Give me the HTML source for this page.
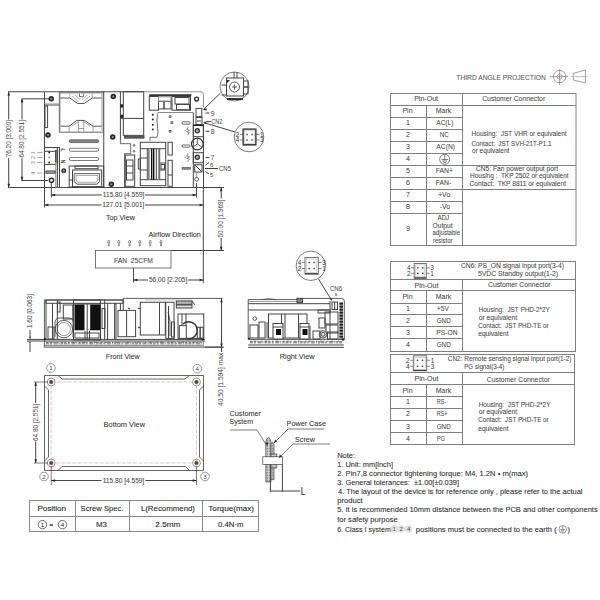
<!DOCTYPE html>
<html><head><meta charset="utf-8"><style>
html,body{margin:0;padding:0;background:#fff;width:600px;height:600px;overflow:hidden}
svg{display:block;font-family:"Liberation Sans",sans-serif}
</style></head><body>
<svg width="600" height="600" viewBox="0 0 600 600">
<rect width="600" height="600" fill="#fff"/>
<text x="456.3" y="80.0" font-size="7.5" textLength="89.5" lengthAdjust="spacingAndGlyphs" fill="#555" stroke="#555" stroke-width="0.06">THIRD ANGLE PROJECTION</text>
<g stroke="#777" stroke-width="0.7" fill="none">
<circle cx="559.6" cy="76.6" r="6.2"/>
<circle cx="559.6" cy="76.6" r="2.5" stroke="#a77"/>
<line x1="550" y1="76.6" x2="568" y2="76.6"/><line x1="559.6" y1="69" x2="559.6" y2="85"/>
<path d="M573.3 73.3 L585.4 70 L585.4 82.8 L573.3 80 Z"/>
<line x1="570.8" y1="76.6" x2="588.3" y2="76.6" stroke="#b99"/>
</g>
<g stroke="#777" stroke-width="1" fill="none">
<rect x="390.5" y="93.5" width="185.5" height="152" stroke="#808080" stroke-width="1" fill="none" />
<line x1="390.5" y1="105.5" x2="576" y2="105.5" stroke="#808080" stroke-width="1" />
<line x1="462.5" y1="93.5" x2="462.5" y2="245.5" stroke="#808080" stroke-width="1" />
<line x1="426.5" y1="105.5" x2="426.5" y2="245.5" stroke="#808080" stroke-width="1" />
<line x1="390.5" y1="117.5" x2="462.5" y2="117.5" stroke="#808080" stroke-width="1" />
<line x1="390.5" y1="129.5" x2="462.5" y2="129.5" stroke="#808080" stroke-width="1" />
<line x1="390.5" y1="141.5" x2="462.5" y2="141.5" stroke="#808080" stroke-width="1" />
<line x1="390.5" y1="153.5" x2="462.5" y2="153.5" stroke="#808080" stroke-width="1" />
<line x1="390.5" y1="165.5" x2="462.5" y2="165.5" stroke="#808080" stroke-width="1" />
<line x1="390.5" y1="177.5" x2="462.5" y2="177.5" stroke="#808080" stroke-width="1" />
<line x1="390.5" y1="189.5" x2="462.5" y2="189.5" stroke="#808080" stroke-width="1" />
<line x1="390.5" y1="201.5" x2="462.5" y2="201.5" stroke="#808080" stroke-width="1" />
<line x1="390.5" y1="213.5" x2="462.5" y2="213.5" stroke="#808080" stroke-width="1" />
<line x1="462.5" y1="165.5" x2="576" y2="165.5" stroke="#808080" stroke-width="1" />
<line x1="462.5" y1="189.5" x2="576" y2="189.5" stroke="#808080" stroke-width="1" />
</g>
<text x="414.2" y="100.8" font-size="7" textLength="23.8" lengthAdjust="spacingAndGlyphs" fill="#444" stroke="#555" stroke-width="0.06">Pin-Out</text>
<text x="482.2" y="101.3" font-size="7" textLength="63.0" lengthAdjust="spacingAndGlyphs" fill="#444" stroke="#555" stroke-width="0.06">Customer Connector</text>
<text x="402.5" y="113.3" font-size="7" textLength="10.0" lengthAdjust="spacingAndGlyphs" fill="#444" stroke="#555" stroke-width="0.06">Pin</text>
<text x="435.8" y="113.3" font-size="7" textLength="15.5" lengthAdjust="spacingAndGlyphs" fill="#444" stroke="#555" stroke-width="0.06">Mark</text>
<text x="408" y="125.0" font-size="7" text-anchor="middle" fill="#333">1</text>
<text x="436.3" y="125.0" font-size="7" textLength="17.0" lengthAdjust="spacingAndGlyphs" fill="#444" stroke="#555" stroke-width="0.06">AC(L)</text>
<text x="408" y="137.3" font-size="7" text-anchor="middle" fill="#333">2</text>
<text x="439.7" y="137.3" font-size="7" textLength="9.0" lengthAdjust="spacingAndGlyphs" fill="#444" stroke="#555" stroke-width="0.06">NC</text>
<text x="408" y="149.4" font-size="7" text-anchor="middle" fill="#333">3</text>
<text x="436.3" y="149.4" font-size="7" textLength="18.7" lengthAdjust="spacingAndGlyphs" fill="#444" stroke="#555" stroke-width="0.06">AC(N)</text>
<text x="408" y="161.4" font-size="7" text-anchor="middle" fill="#333">4</text>
<text x="408" y="173.4" font-size="7" text-anchor="middle" fill="#333">5</text>
<text x="435.8" y="173.4" font-size="7" textLength="17.2" lengthAdjust="spacingAndGlyphs" fill="#444" stroke="#555" stroke-width="0.06">FAN+</text>
<text x="408" y="185.2" font-size="7" text-anchor="middle" fill="#333">6</text>
<text x="435.8" y="185.2" font-size="7" textLength="15.5" lengthAdjust="spacingAndGlyphs" fill="#444" stroke="#555" stroke-width="0.06">FAN-</text>
<text x="408" y="197.3" font-size="7" text-anchor="middle" fill="#333">7</text>
<text x="438.0" y="197.3" font-size="7" textLength="12.3" lengthAdjust="spacingAndGlyphs" fill="#444" stroke="#555" stroke-width="0.06">+Vo</text>
<text x="408" y="208.9" font-size="7" text-anchor="middle" fill="#333">8</text>
<text x="439.7" y="208.9" font-size="7" textLength="10.6" lengthAdjust="spacingAndGlyphs" fill="#444" stroke="#555" stroke-width="0.06">-Vo</text>
<text x="408" y="230.8" font-size="7" text-anchor="middle" fill="#333">9</text>
<g stroke="#444" stroke-width="0.7" fill="none"><circle cx="444.7" cy="159.3" r="5"/><line x1="444.7" y1="155" x2="444.7" y2="159.5"/><line x1="441.5" y1="159.5" x2="448" y2="159.5"/><line x1="442.5" y1="161" x2="447" y2="161"/><line x1="443.5" y1="162.5" x2="446" y2="162.5"/></g>
<text x="437.5" y="220.0" font-size="6.9" textLength="11.7" lengthAdjust="spacingAndGlyphs" fill="#444" stroke="#555" stroke-width="0.06">ADJ</text>
<text x="432.5" y="227.5" font-size="6.9" textLength="20.0" lengthAdjust="spacingAndGlyphs" fill="#444" stroke="#555" stroke-width="0.06">Output</text>
<text x="432.5" y="235.0" font-size="6.9" textLength="27.5" lengthAdjust="spacingAndGlyphs" fill="#444" stroke="#555" stroke-width="0.06">adjustable</text>
<text x="433.0" y="242.8" font-size="6.9" textLength="19.5" lengthAdjust="spacingAndGlyphs" fill="#444" stroke="#555" stroke-width="0.06">resistor</text>
<text x="471.6" y="135.6" font-size="6.9" textLength="95.0" lengthAdjust="spacingAndGlyphs" fill="#444" stroke="#555" stroke-width="0.06">Housing:&#160; JST VHR or equivalent</text>
<text x="471.6" y="145.6" font-size="6.9" textLength="79.8" lengthAdjust="spacingAndGlyphs" fill="#444" stroke="#555" stroke-width="0.06">Contact:&#160; JST SVH-21T-P1.1</text>
<text x="472.0" y="153.2" font-size="6.9" textLength="37.4" lengthAdjust="spacingAndGlyphs" fill="#444" stroke="#555" stroke-width="0.06">or equivalent</text>
<text x="476.0" y="170.6" font-size="6.9" textLength="82.0" lengthAdjust="spacingAndGlyphs" fill="#444" stroke="#555" stroke-width="0.06">CN5: Fan power output port</text>
<text x="470.0" y="178.2" font-size="6.9" textLength="98.6" lengthAdjust="spacingAndGlyphs" fill="#444" stroke="#555" stroke-width="0.06">Housing :&#160; TKP 2502 or equivalent</text>
<text x="469.6" y="186.2" font-size="6.9" textLength="96.4" lengthAdjust="spacingAndGlyphs" fill="#444" stroke="#555" stroke-width="0.06">Contact:&#160; TKP 8811 or equivalent</text>
<g stroke="#777" stroke-width="1" fill="none">
<rect x="390.5" y="261.5" width="185" height="90" stroke="#808080" stroke-width="1" fill="none" />
<line x1="390.5" y1="279.5" x2="575.5" y2="279.5" stroke="#808080" stroke-width="1" />
<line x1="390.5" y1="290.5" x2="575.5" y2="290.5" stroke="#808080" stroke-width="1" />
<line x1="462.5" y1="279.5" x2="462.5" y2="351.5" stroke="#808080" stroke-width="1" />
<line x1="426.5" y1="290.5" x2="426.5" y2="351.5" stroke="#808080" stroke-width="1" />
<line x1="390.5" y1="303.5" x2="462.5" y2="303.5" stroke="#808080" stroke-width="1" />
<line x1="390.5" y1="314.5" x2="462.5" y2="314.5" stroke="#808080" stroke-width="1" />
<line x1="390.5" y1="326.5" x2="462.5" y2="326.5" stroke="#808080" stroke-width="1" />
<line x1="390.5" y1="338.5" x2="462.5" y2="338.5" stroke="#808080" stroke-width="1" />
</g>
<rect x="414.2" y="263.5" width="12.100000000000023" height="14.800000000000011" stroke="#666" stroke-width="0.9" fill="none" />
<rect x="415.7" y="265.0" width="9.100000000000023" height="11.800000000000011" stroke="#aaa" stroke-width="0.5" fill="none" />
<line x1="414.2" y1="277.8" x2="426.3" y2="277.8" stroke="#333" stroke-width="1" />
<rect x="417.05" y="267.1" width="1.4" height="1.4" fill="#333"/>
<rect x="422.05" y="267.1" width="1.4" height="1.4" fill="#333"/>
<line x1="411.2" y1="267.8" x2="414.2" y2="267.8" stroke="#555" stroke-width="0.7" />
<line x1="426.3" y1="267.8" x2="429.8" y2="267.8" stroke="#555" stroke-width="0.7" />
<rect x="417.05" y="272.6" width="1.4" height="1.4" fill="#333"/>
<rect x="422.05" y="272.6" width="1.4" height="1.4" fill="#333"/>
<line x1="411.2" y1="273.3" x2="414.2" y2="273.3" stroke="#555" stroke-width="0.7" />
<line x1="426.3" y1="273.3" x2="429.8" y2="273.3" stroke="#555" stroke-width="0.7" />
<text x="407.0" y="270.1" font-size="6.4" fill="#333">4</text>
<text x="407.0" y="275.6" font-size="6.4" fill="#333">2</text>
<text x="430.3" y="270.1" font-size="6.4" fill="#333">3</text>
<text x="430.3" y="275.6" font-size="6.4" fill="#333">1</text>
<text x="461.0" y="267.8" font-size="6.9" textLength="103.0" lengthAdjust="spacingAndGlyphs" fill="#444" stroke="#555" stroke-width="0.06">CN6: PS_ON signal input port(3-4)</text>
<text x="478.0" y="276.0" font-size="6.9" textLength="80.0" lengthAdjust="spacingAndGlyphs" fill="#444" stroke="#555" stroke-width="0.06">5VDC Standby output(1-2)</text>
<text x="414.5" y="287.8" font-size="7" textLength="24.0" lengthAdjust="spacingAndGlyphs" fill="#444" stroke="#555" stroke-width="0.06">Pin-Out</text>
<text x="488.0" y="287.4" font-size="7" textLength="62.5" lengthAdjust="spacingAndGlyphs" fill="#444" stroke="#555" stroke-width="0.06">Customer Connector</text>
<text x="402.5" y="298.9" font-size="7" textLength="10.0" lengthAdjust="spacingAndGlyphs" fill="#444" stroke="#555" stroke-width="0.06">Pin</text>
<text x="435.8" y="298.9" font-size="7" textLength="15.5" lengthAdjust="spacingAndGlyphs" fill="#444" stroke="#555" stroke-width="0.06">Mark</text>
<text x="408" y="310.5" font-size="7" text-anchor="middle" fill="#333">1</text>
<text x="437.0" y="310.5" font-size="7" textLength="11.7" lengthAdjust="spacingAndGlyphs" fill="#444" stroke="#555" stroke-width="0.06">+5V</text>
<text x="408" y="322.6" font-size="7" text-anchor="middle" fill="#333">2</text>
<text x="436.7" y="322.6" font-size="7" textLength="14.1" lengthAdjust="spacingAndGlyphs" fill="#444" stroke="#555" stroke-width="0.06">GND</text>
<text x="408" y="334.7" font-size="7" text-anchor="middle" fill="#333">3</text>
<text x="436.3" y="334.7" font-size="7" textLength="21.2" lengthAdjust="spacingAndGlyphs" fill="#444" stroke="#555" stroke-width="0.06">PS-ON</text>
<text x="408" y="346.8" font-size="7" text-anchor="middle" fill="#333">4</text>
<text x="436.7" y="346.8" font-size="7" textLength="14.1" lengthAdjust="spacingAndGlyphs" fill="#444" stroke="#555" stroke-width="0.06">GND</text>
<text x="478.7" y="311.7" font-size="6.9" textLength="71.1" lengthAdjust="spacingAndGlyphs" fill="#444" stroke="#555" stroke-width="0.06">Housing:&#160; JST PHD-2*2Y</text>
<text x="478.7" y="319.6" font-size="6.9" textLength="38.5" lengthAdjust="spacingAndGlyphs" fill="#444" stroke="#555" stroke-width="0.06">or equivalent</text>
<text x="478.2" y="327.8" font-size="6.9" textLength="70.5" lengthAdjust="spacingAndGlyphs" fill="#444" stroke="#555" stroke-width="0.06">Contact:&#160; JST PHD-TE or</text>
<text x="478.2" y="336.0" font-size="6.9" textLength="30.3" lengthAdjust="spacingAndGlyphs" fill="#444" stroke="#555" stroke-width="0.06">equivalent</text>
<g stroke="#777" stroke-width="1" fill="none">
<rect x="390.5" y="354.5" width="184" height="90" stroke="#808080" stroke-width="1" fill="none" />
<line x1="390.5" y1="372.5" x2="574.5" y2="372.5" stroke="#808080" stroke-width="1" />
<line x1="390.5" y1="384.5" x2="574.5" y2="384.5" stroke="#808080" stroke-width="1" />
<line x1="462.5" y1="372.5" x2="462.5" y2="444.5" stroke="#808080" stroke-width="1" />
<line x1="426.5" y1="384.5" x2="426.5" y2="444.5" stroke="#808080" stroke-width="1" />
<line x1="390.5" y1="396.5" x2="462.5" y2="396.5" stroke="#808080" stroke-width="1" />
<line x1="390.5" y1="408.5" x2="462.5" y2="408.5" stroke="#808080" stroke-width="1" />
<line x1="390.5" y1="420.5" x2="462.5" y2="420.5" stroke="#808080" stroke-width="1" />
<line x1="390.5" y1="432.5" x2="462.5" y2="432.5" stroke="#808080" stroke-width="1" />
</g>
<rect x="413.3" y="355.8" width="13.399999999999977" height="15.0" stroke="#666" stroke-width="0.9" fill="none" />
<rect x="414.8" y="357.3" width="10.399999999999977" height="12.0" stroke="#aaa" stroke-width="0.5" fill="none" />
<line x1="413.3" y1="370.3" x2="426.7" y2="370.3" stroke="#333" stroke-width="1" />
<rect x="416.8" y="359.6" width="1.4" height="1.4" fill="#333"/>
<rect x="421.8" y="359.6" width="1.4" height="1.4" fill="#333"/>
<line x1="410.3" y1="360.3" x2="413.3" y2="360.3" stroke="#555" stroke-width="0.7" />
<line x1="426.7" y1="360.3" x2="430.2" y2="360.3" stroke="#555" stroke-width="0.7" />
<rect x="416.8" y="365.6" width="1.4" height="1.4" fill="#333"/>
<rect x="421.8" y="365.6" width="1.4" height="1.4" fill="#333"/>
<line x1="410.3" y1="366.3" x2="413.3" y2="366.3" stroke="#555" stroke-width="0.7" />
<line x1="426.7" y1="366.3" x2="430.2" y2="366.3" stroke="#555" stroke-width="0.7" />
<text x="406.1" y="362.6" font-size="6.4" fill="#333">2</text>
<text x="406.1" y="368.6" font-size="6.4" fill="#333">4</text>
<text x="430.7" y="362.6" font-size="6.4" fill="#333">1</text>
<text x="430.7" y="368.6" font-size="6.4" fill="#333">3</text>
<text x="447.8" y="361.2" font-size="6.9" textLength="123.7" lengthAdjust="spacingAndGlyphs" fill="#444" stroke="#555" stroke-width="0.06">CN2: Remote sensing signal input port(1-2)</text>
<text x="464.2" y="368.7" font-size="6.9" textLength="40.1" lengthAdjust="spacingAndGlyphs" fill="#444" stroke="#555" stroke-width="0.06">PG signal(3-4)</text>
<text x="414.5" y="381.4" font-size="7" textLength="24.0" lengthAdjust="spacingAndGlyphs" fill="#444" stroke="#555" stroke-width="0.06">Pin-Out</text>
<text x="486.8" y="381.5" font-size="7" textLength="63.0" lengthAdjust="spacingAndGlyphs" fill="#444" stroke="#555" stroke-width="0.06">Customer Connector</text>
<text x="402.5" y="392.6" font-size="7" textLength="10.0" lengthAdjust="spacingAndGlyphs" fill="#444" stroke="#555" stroke-width="0.06">Pin</text>
<text x="435.8" y="392.6" font-size="7" textLength="15.5" lengthAdjust="spacingAndGlyphs" fill="#444" stroke="#555" stroke-width="0.06">Mark</text>
<text x="408" y="404.3" font-size="7" text-anchor="middle" fill="#333">1</text>
<text x="436.7" y="404.3" font-size="7" textLength="9.6" lengthAdjust="spacingAndGlyphs" fill="#444" stroke="#555" stroke-width="0.06">RS-</text>
<text x="408" y="416" font-size="7" text-anchor="middle" fill="#333">2</text>
<text x="436.7" y="416.0" font-size="7" textLength="10.8" lengthAdjust="spacingAndGlyphs" fill="#444" stroke="#555" stroke-width="0.06">RS+</text>
<text x="408" y="429.3" font-size="7" text-anchor="middle" fill="#333">3</text>
<text x="436.7" y="429.3" font-size="7" textLength="14.1" lengthAdjust="spacingAndGlyphs" fill="#444" stroke="#555" stroke-width="0.06">GND</text>
<text x="408" y="440.9" font-size="7" text-anchor="middle" fill="#333">4</text>
<text x="436.7" y="440.9" font-size="7" textLength="8.3" lengthAdjust="spacingAndGlyphs" fill="#444" stroke="#555" stroke-width="0.06">PG</text>
<text x="478.7" y="406.7" font-size="6.9" textLength="71.8" lengthAdjust="spacingAndGlyphs" fill="#444" stroke="#555" stroke-width="0.06">Housing:&#160; JST PHD-2*2Y</text>
<text x="478.7" y="414.2" font-size="6.9" textLength="38.5" lengthAdjust="spacingAndGlyphs" fill="#444" stroke="#555" stroke-width="0.06">or equivalent</text>
<text x="478.2" y="422.3" font-size="6.9" textLength="70.5" lengthAdjust="spacingAndGlyphs" fill="#444" stroke="#555" stroke-width="0.06">Contact:&#160; JST PHD-TE or</text>
<text x="478.2" y="430.5" font-size="6.9" textLength="30.3" lengthAdjust="spacingAndGlyphs" fill="#444" stroke="#555" stroke-width="0.06">equivalent</text>
<g xml:space="preserve">
<text x="337.2" y="457.6" font-size="6.8" textLength="17.9" lengthAdjust="spacingAndGlyphs" fill="#2a2a2a" stroke="#444" stroke-width="0.08">Note:</text>
<text x="337.2" y="466.9" font-size="6.8" textLength="55.8" lengthAdjust="spacingAndGlyphs" fill="#2a2a2a" stroke="#444" stroke-width="0.08">1. Unit: mm[inch]</text>
<text x="337.2" y="476.0" font-size="6.8" textLength="190.8" lengthAdjust="spacingAndGlyphs" fill="#2a2a2a" stroke="#444" stroke-width="0.08">2. Pin7,8 connector tightening torque: M4, 1.2N • m(max)</text>
<text x="337.2" y="485.1" font-size="6.8" textLength="121.8" lengthAdjust="spacingAndGlyphs" fill="#2a2a2a" stroke="#444" stroke-width="0.08">3. General tolerances:&#160;  ±1.00[±0.039]</text>
<text x="338.0" y="493.9" font-size="6.8" textLength="244.5" lengthAdjust="spacingAndGlyphs" fill="#2a2a2a" stroke="#444" stroke-width="0.08">4. The layout of the device is for reference only , please refer to the actual</text>
<text x="337.2" y="503.0" font-size="6.8" textLength="25.5" lengthAdjust="spacingAndGlyphs" fill="#2a2a2a" stroke="#444" stroke-width="0.08">product</text>
<text x="337.2" y="512.4" font-size="6.8" textLength="260.5" lengthAdjust="spacingAndGlyphs" fill="#2a2a2a" stroke="#444" stroke-width="0.08">5. It is recommended 10mm distance between the PCB and other components</text>
<text x="337.2" y="521.6" font-size="6.8" textLength="60.5" lengthAdjust="spacingAndGlyphs" fill="#2a2a2a" stroke="#444" stroke-width="0.08">for safety purpose</text>
<text x="337.2" y="531.5" font-size="6.8" textLength="53.6" lengthAdjust="spacingAndGlyphs" fill="#2a2a2a" stroke="#444" stroke-width="0.08">6. Class I system</text>
<text x="415.8" y="531.5" font-size="6.8" textLength="136.2" lengthAdjust="spacingAndGlyphs" fill="#2a2a2a" stroke="#444" stroke-width="0.08">positions must be connected to the earth</text>
<text x="554.0" y="531.5" font-size="6.8" textLength="2.8" lengthAdjust="spacingAndGlyphs" fill="#2a2a2a" stroke="#444" stroke-width="0.08">(</text>
</g>
<circle cx="394.2" cy="529" r="3.4" fill="#e6e6e6" stroke="#ccc" stroke-width="0.5"/>
<text x="394.2" y="531.3" font-size="6" text-anchor="middle" fill="#444">1</text>
<circle cx="401.2" cy="529" r="3.4" fill="#e6e6e6" stroke="#ccc" stroke-width="0.5"/>
<text x="401.2" y="531.3" font-size="6" text-anchor="middle" fill="#444">2</text>
<circle cx="408.6" cy="529" r="3.4" fill="#e6e6e6" stroke="#ccc" stroke-width="0.5"/>
<text x="408.6" y="531.3" font-size="6" text-anchor="middle" fill="#444">4</text>
<g stroke="#555" stroke-width="0.6" fill="none"><circle cx="562.7" cy="529.3" r="3.8"/><line x1="562.7" y1="526" x2="562.7" y2="529.5"/><line x1="560.2" y1="529.5" x2="565.2" y2="529.5"/><line x1="561" y1="530.8" x2="564.4" y2="530.8"/><line x1="561.9" y1="532" x2="563.5" y2="532"/></g>
<text x="567.5" y="531.5" font-size="6.8" textLength="2.5" lengthAdjust="spacingAndGlyphs" fill="#2a2a2a" stroke="#444" stroke-width="0.08">)</text>
<g stroke="#888" stroke-width="1" fill="none">
<rect x="29.5" y="500.5" width="229" height="31" stroke="#8a8a8a" stroke-width="1" fill="none" />
<line x1="29.5" y1="516.5" x2="258.5" y2="516.5" stroke="#8a8a8a" stroke-width="1" />
<line x1="75.5" y1="500.5" x2="75.5" y2="531.5" stroke="#8a8a8a" stroke-width="1" />
<line x1="129.5" y1="500.5" x2="129.5" y2="531.5" stroke="#8a8a8a" stroke-width="1" />
<line x1="202.5" y1="500.5" x2="202.5" y2="531.5" stroke="#8a8a8a" stroke-width="1" />
</g>
<text x="37.4" y="511.3" font-size="7.7" textLength="28.6" lengthAdjust="spacingAndGlyphs" fill="#222" stroke="#333" stroke-width="0.1">Position</text>
<text x="80.6" y="511.3" font-size="7.7" textLength="42.8" lengthAdjust="spacingAndGlyphs" fill="#222" stroke="#333" stroke-width="0.1">Screw Spec.</text>
<text x="140.9" y="511.3" font-size="7.7" textLength="54.1" lengthAdjust="spacingAndGlyphs" fill="#222" stroke="#333" stroke-width="0.1">L(Recommend)</text>
<text x="208.3" y="511.3" font-size="7.7" textLength="45.7" lengthAdjust="spacingAndGlyphs" fill="#222" stroke="#333" stroke-width="0.1">Torque(max)</text>
<text x="96.0" y="527.3" font-size="7.7" textLength="11.0" lengthAdjust="spacingAndGlyphs" fill="#222" stroke="#333" stroke-width="0.1">M3</text>
<text x="155.3" y="527.3" font-size="7.7" textLength="25.2" lengthAdjust="spacingAndGlyphs" fill="#222" stroke="#333" stroke-width="0.1">2.5mm</text>
<text x="217.9" y="527.3" font-size="7.7" textLength="25.6" lengthAdjust="spacingAndGlyphs" fill="#222" stroke="#333" stroke-width="0.1">0.4N·m</text>
<g stroke="#333" stroke-width="0.7" fill="none"><circle cx="42.5" cy="524.6" r="4.2"/><circle cx="62.5" cy="524.6" r="4.2"/></g>
<text x="42.5" y="527" font-size="6.2" text-anchor="middle" fill="#222">1</text>
<text x="62.5" y="527" font-size="6.2" text-anchor="middle" fill="#222">4</text>
<line x1="49.5" y1="525" x2="53" y2="525" stroke="#222" stroke-width="1.3" />
<text x="229.6" y="415.5" font-size="7.6" textLength="31.4" lengthAdjust="spacingAndGlyphs" fill="#333" stroke="#444" stroke-width="0.08">Customer</text>
<text x="229.6" y="424.2" font-size="7.6" textLength="23.4" lengthAdjust="spacingAndGlyphs" fill="#333" stroke="#444" stroke-width="0.08">System</text>
<text x="286.6" y="426.2" font-size="7.6" textLength="39.4" lengthAdjust="spacingAndGlyphs" fill="#333" stroke="#444" stroke-width="0.08">Power Case</text>
<text x="295.0" y="441.6" font-size="7.6" textLength="20.0" lengthAdjust="spacingAndGlyphs" fill="#333" stroke="#444" stroke-width="0.08">Screw</text>
<g stroke="#444" stroke-width="0.7" fill="none">
<polyline points="230,430 257,430 267,446"/>
<polyline points="324,429 288,429 274,443"/>
<polyline points="330,444 293,444 279,458"/>
</g>
<defs><pattern id="hat" width="1.6" height="1.6" patternUnits="userSpaceOnUse"><rect width="1.6" height="1.6" fill="#d0d0d0"/><rect width="0.8" height="0.8" fill="#777"/></pattern></defs>
<g stroke="#444" stroke-width="0.7">
<path d="M265.8 482 L265.8 442 Q266.5 437.5 268.4 437.5 Q270.3 437.5 271 442 L271 482 Z" fill="url(#hat)"/>
<path d="M271 479.6 L271 444 Q272.5 440.5 274 444 L274 479.6 Z" fill="url(#hat)"/>
<rect x="271" y="454" width="5.8" height="14" fill="url(#hat)"/>
<rect x="262.8" y="456.8" width="19.9" height="7.6" fill="#fff"/>
</g>
<g stroke="#333" stroke-width="0.8" fill="none">
<line x1="270.4" y1="464.4" x2="270.4" y2="492" stroke="#444" stroke-width="1" />
<line x1="282.4" y1="464.4" x2="282.4" y2="492" stroke="#444" stroke-width="1" />
<line x1="270.4" y1="491" x2="300" y2="491" stroke="#444" stroke-width="1" />
</g>
<path d="M267 446 l-1.5 -3.5 l3 0.3 z M274 443 l1 -3.6 l2 2 z M279 458 l0.8 -3.4 l2.2 1.8 z" fill="#222"/>
<text x="300.8" y="495.0" font-size="10" textLength="4.7" lengthAdjust="spacingAndGlyphs" fill="#222" stroke="#555" stroke-width="0.06">L</text>
<g stroke="#555" stroke-width="0.9" fill="none">
<path d="M44.5 375.5 H203.5 V470.5 H44.5 Z"/>
<path d="M62 379 H185 L189.5 375.5"/>
<path d="M58 375.5 L62 379"/>
<path d="M199.5 390 V457 L203.5 461"/>
<path d="M199.5 390 L203.5 386"/>
<path d="M62 466.5 H185.5 L189.5 470.5"/>
<path d="M62 466.5 L58 470.5"/>
<path d="M48.5 390 V457 L44.5 461"/>
<path d="M48.5 390 L44.5 386"/>
</g>
<g stroke="#d9a0a0" stroke-width="0.6" fill="none" stroke-dasharray="4 1.5">
<path d="M51.2 382 H196.5 V463 H51.2 Z"/>
</g>
<circle cx="51.2" cy="382" r="3.9" fill="#fff" stroke="#777" stroke-width="0.8"/>
<circle cx="51.2" cy="382" r="1.9" fill="#5a3a3a" stroke="#a66" stroke-width="0.6"/>
<circle cx="196.5" cy="382" r="3.9" fill="#fff" stroke="#777" stroke-width="0.8"/>
<circle cx="196.5" cy="382" r="1.9" fill="#5a3a3a" stroke="#a66" stroke-width="0.6"/>
<circle cx="51.2" cy="463" r="3.9" fill="#fff" stroke="#777" stroke-width="0.8"/>
<circle cx="51.2" cy="463" r="1.9" fill="#5a3a3a" stroke="#a66" stroke-width="0.6"/>
<circle cx="196.5" cy="463" r="3.9" fill="#fff" stroke="#777" stroke-width="0.8"/>
<circle cx="196.5" cy="463" r="1.9" fill="#5a3a3a" stroke="#a66" stroke-width="0.6"/>
<circle cx="51" cy="368" r="4.3" fill="none" stroke="#555" stroke-width="0.6"/>
<text x="51" y="370.3" font-size="6.2" text-anchor="middle" fill="#444">1</text>
<circle cx="197.3" cy="368.7" r="4.3" fill="none" stroke="#555" stroke-width="0.6"/>
<text x="197.3" y="371.0" font-size="6.2" text-anchor="middle" fill="#444">4</text>
<circle cx="44" cy="476.5" r="4.3" fill="none" stroke="#555" stroke-width="0.6"/>
<text x="44" y="478.8" font-size="6.2" text-anchor="middle" fill="#444">2</text>
<circle cx="205" cy="476.5" r="4.3" fill="none" stroke="#555" stroke-width="0.6"/>
<text x="205" y="478.8" font-size="6.2" text-anchor="middle" fill="#444">3</text>
<text x="103.6" y="426.5" font-size="7.6" textLength="41.4" lengthAdjust="spacingAndGlyphs" fill="#333" stroke="#444" stroke-width="0.08">Bottom View</text>
<g stroke="#444" stroke-width="0.7" fill="none">
<line x1="34" y1="382" x2="48" y2="382" stroke="#444" stroke-width="0.7" />
<line x1="34" y1="463" x2="48" y2="463" stroke="#444" stroke-width="0.7" />
<line x1="35.7" y1="382" x2="35.7" y2="403" stroke="#444" stroke-width="1" />
<line x1="35.7" y1="441.5" x2="35.7" y2="463" stroke="#444" stroke-width="1" />
<line x1="51.2" y1="466" x2="51.2" y2="485" stroke="#444" stroke-width="0.7" />
<line x1="196.5" y1="466" x2="196.5" y2="485" stroke="#444" stroke-width="0.7" />
<line x1="51.2" y1="480.5" x2="101.5" y2="480.5" stroke="#444" stroke-width="1" />
<line x1="145.5" y1="480.5" x2="196.5" y2="480.5" stroke="#444" stroke-width="1" />
</g>
<path d="M35.7 382 l-1.25 3.8 l2.5 0 z" fill="#222"/>
<path d="M35.7 463 l-1.25 -3.8 l2.5 0 z" fill="#222"/>
<path d="M51.2 480.5 l3.8 -1.25 l0 2.5 z" fill="#222"/>
<path d="M196.5 480.5 l-3.8 -1.25 l0 2.5 z" fill="#222"/>
<text transform="translate(37.88,441.00) rotate(-90)" x="0" y="0" font-size="6.6" textLength="37.3" lengthAdjust="spacingAndGlyphs" fill="#444">64.80 [2.551]</text>
<text x="102.7" y="482.6" font-size="6.6" textLength="41.7" lengthAdjust="spacingAndGlyphs" fill="#444" stroke="#555" stroke-width="0.06">115.80 [4.559]</text>
<g stroke="#444" stroke-width="0.7" fill="none">
<line x1="221.5" y1="298.4" x2="221.5" y2="352" stroke="#444" stroke-width="1" />
<line x1="205" y1="347.2" x2="224" y2="347.2" stroke="#444" stroke-width="1" />
</g>
<path d="M221.5 298.4 l-1.25 3.8 l2.5 0 z" fill="#222"/>
<path d="M221.5 347.2 l-1.25 -3.8 l2.5 0 z" fill="#222"/>
<text transform="translate(222.68,406.00) rotate(-90)" x="0" y="0" font-size="6.6" textLength="53.3" lengthAdjust="spacingAndGlyphs" fill="#444">40.50 [1.594] max</text>
<g stroke="#444" stroke-width="0.7" fill="none">
<line x1="8.2" y1="91.75" x2="44" y2="91.75" stroke="#444" stroke-width="1" />
<line x1="8.2" y1="187.5" x2="44" y2="187.5" stroke="#444" stroke-width="1" />
<line x1="8.7" y1="91.75" x2="8.7" y2="119.5" stroke="#444" stroke-width="1" />
<line x1="8.7" y1="158" x2="8.7" y2="187.5" stroke="#444" stroke-width="1" />
<line x1="21.5" y1="98.8" x2="50" y2="98.8" stroke="#444" stroke-width="1" />
<line x1="21.5" y1="180.5" x2="48" y2="180.5" stroke="#444" stroke-width="1" />
<line x1="22" y1="98.8" x2="22" y2="119.5" stroke="#444" stroke-width="1" />
<line x1="22" y1="158" x2="22" y2="180.5" stroke="#444" stroke-width="1" />
<line x1="44.5" y1="187.5" x2="44.5" y2="207.5" stroke="#444" stroke-width="1" />
<line x1="51.3" y1="183" x2="51.3" y2="197.5" stroke="#444" stroke-width="1" />
<line x1="51.3" y1="195" x2="101.8" y2="195" stroke="#444" stroke-width="1" />
<line x1="145" y1="195" x2="196.5" y2="195" stroke="#444" stroke-width="1" />
<line x1="44.5" y1="205" x2="101.5" y2="205" stroke="#444" stroke-width="1" />
<line x1="145" y1="205" x2="203.3" y2="205" stroke="#444" stroke-width="1" />
<line x1="196.5" y1="183" x2="196.5" y2="197.5" stroke="#444" stroke-width="1" />
<line x1="203.3" y1="187" x2="203.3" y2="283" stroke="#444" stroke-width="1" />
<line x1="203.3" y1="187.5" x2="224" y2="187.5" stroke="#444" stroke-width="1" />
<line x1="171" y1="250.5" x2="224" y2="250.5" stroke="#444" stroke-width="1" />
<line x1="221.2" y1="187.5" x2="221.2" y2="198.5" stroke="#444" stroke-width="1" />
<line x1="221.2" y1="238" x2="221.2" y2="250.5" stroke="#444" stroke-width="1" />
<line x1="133.5" y1="268" x2="133.5" y2="282.5" stroke="#444" stroke-width="1" />
<line x1="133.5" y1="280" x2="148" y2="280" stroke="#444" stroke-width="1" />
<line x1="188" y1="280" x2="203.3" y2="280" stroke="#444" stroke-width="1" />
</g>
<path d="M8.7 91.75 l-1.25 3.8 l2.5 0 z" fill="#222"/>
<path d="M8.7 187.5 l-1.25 -3.8 l2.5 0 z" fill="#222"/>
<path d="M22 98.8 l-1.25 3.8 l2.5 0 z" fill="#222"/>
<path d="M22 180.5 l-1.25 -3.8 l2.5 0 z" fill="#222"/>
<path d="M51.3 195 l3.8 -1.25 l0 2.5 z" fill="#222"/>
<path d="M196.5 195 l-3.8 -1.25 l0 2.5 z" fill="#222"/>
<path d="M44.5 205 l3.8 -1.25 l0 2.5 z" fill="#222"/>
<path d="M203.3 205 l-3.8 -1.25 l0 2.5 z" fill="#222"/>
<path d="M221.2 187.5 l-1.25 3.8 l2.5 0 z" fill="#222"/>
<path d="M221.2 250.5 l-1.25 -3.8 l2.5 0 z" fill="#222"/>
<path d="M133.5 280 l3.8 -1.25 l0 2.5 z" fill="#222"/>
<path d="M203.3 280 l-3.8 -1.25 l0 2.5 z" fill="#222"/>
<text transform="translate(10.85,157.30) rotate(-90)" x="0" y="0" font-size="6.8" textLength="37.3" lengthAdjust="spacingAndGlyphs" fill="#444">76.20 [3.000]</text>
<text transform="translate(23.95,157.60) rotate(-90)" x="0" y="0" font-size="6.8" textLength="37.6" lengthAdjust="spacingAndGlyphs" fill="#444">64.80 [2.551]</text>
<text transform="translate(223.45,237.50) rotate(-90)" x="0" y="0" font-size="6.8" textLength="38.0" lengthAdjust="spacingAndGlyphs" fill="#444">50.00 [1.969]</text>
<text x="102.8" y="197.3" font-size="6.8" textLength="41.6" lengthAdjust="spacingAndGlyphs" fill="#444" stroke="#555" stroke-width="0.06">115.80 [4.559]</text>
<text x="102.3" y="207.3" font-size="6.8" textLength="42.1" lengthAdjust="spacingAndGlyphs" fill="#444" stroke="#555" stroke-width="0.06">127.01 [5.001]</text>
<text x="148.9" y="282.3" font-size="6.8" textLength="38.4" lengthAdjust="spacingAndGlyphs" fill="#444" stroke="#555" stroke-width="0.06">56.00 [2.205]</text>
<text x="106.0" y="219.6" font-size="7.4" textLength="28.8" lengthAdjust="spacingAndGlyphs" fill="#333" stroke="#444" stroke-width="0.08">Top View</text>
<text x="148.5" y="237.0" font-size="7.4" textLength="52.4" lengthAdjust="spacingAndGlyphs" fill="#333" stroke="#444" stroke-width="0.08">Airflow Direction</text>
<rect x="95.5" y="250.5" width="75.5" height="17.5" stroke="#555" stroke-width="0.8" fill="none" />
<text x="114.0" y="263.0" font-size="7.2" textLength="39.0" lengthAdjust="spacingAndGlyphs" fill="#333" xml:space="preserve">FAN&#160; 25CFM</text>
<path d="M108.8 240 l-1.3 2.2 h0.8 v3.8 h1 v-3.8 h0.8 z" fill="none" stroke="#555" stroke-width="0.6"/>
<path d="M118.8 240 l-1.3 2.2 h0.8 v3.8 h1 v-3.8 h0.8 z" fill="none" stroke="#555" stroke-width="0.6"/>
<path d="M129.6 240 l-1.3 2.2 h0.8 v3.8 h1 v-3.8 h0.8 z" fill="none" stroke="#555" stroke-width="0.6"/>
<path d="M139.8 240 l-1.3 2.2 h0.8 v3.8 h1 v-3.8 h0.8 z" fill="none" stroke="#555" stroke-width="0.6"/>
<path d="M150.2 240 l-1.3 2.2 h0.8 v3.8 h1 v-3.8 h0.8 z" fill="none" stroke="#555" stroke-width="0.6"/>
<path d="M161 240 l-1.3 2.2 h0.8 v3.8 h1 v-3.8 h0.8 z" fill="none" stroke="#555" stroke-width="0.6"/>
<g stroke="#333" stroke-width="0.9" fill="none">
<path d="M44.5 91.75 H143.5"/>
<path d="M143.5 91.75 H201 Q203.5 91.75 203.5 94.5 V107.5" stroke="#888"/>
<path d="M44.5 91.75 V187.5 H203.5 V124"/>
<line x1="59.3" y1="91.75" x2="59.3" y2="132.2" stroke="#666" stroke-width="0.7" />
<line x1="44.5" y1="105" x2="59.3" y2="105" stroke="#444" stroke-width="1" />
<line x1="44.5" y1="103.5" x2="59.3" y2="103.5" stroke="#888" stroke-width="0.5" />
</g>
<g stroke="#444" stroke-width="0.7" fill="none">
<circle cx="51.25" cy="98.8" r="1.9" stroke-width="1.7" stroke="#2a2a2a" fill="#999"/>
<rect x="45" y="106" width="2.6" height="21.6" stroke="#444" stroke-width="1" fill="none" />
<circle cx="48" cy="135" r="1.9" stroke-width="1.7" stroke="#2a2a2a" fill="#999"/>
<rect x="59.4" y="92.3" width="43.6" height="40.3" stroke="#666" stroke-width="0.7" fill="none" />
<rect x="60.6" y="93.5" width="40.9" height="38" stroke="#999" stroke-width="0.5"/>
<path d="M60.5 98 H69.8 L77.6 103.5 H84.2 L92.2 98 H101.5" stroke-width="0.9"/>
<path d="M69.8 93.5 V98 M92.2 93.5 V98 M72 96 L78.5 101.5 M90 96 L83.5 101.5 M75 95 L80 99.5 M87 95 L82 99.5" stroke="#777" stroke-width="0.6"/>
<path d="M79.5 93.5 V96.5 H83.5 V93.5" stroke-width="0.7"/>
<path d="M60.5 126.2 H69.2 L76.8 120.4 H84.5 L93 126.2 H101.5" stroke-width="0.9"/>
<path d="M72 126 L78.4 121.5 M90 126 L83.8 121.5 M78.4 120.4 V131.5 M83.8 120.4 V131.5 M78.4 128.5 H83.8 M69.2 126.2 V131.5 M93 126.2 V131.5" stroke="#666" stroke-width="0.6"/>
<rect x="69.3" y="139.8" width="29.4" height="2.8" rx="1.4" fill="#888"/>
<rect x="69.3" y="148.3" width="29.4" height="3" rx="1.5"/>
<rect x="69.3" y="157.5" width="29.4" height="3" rx="1.5"/>
<rect x="44.5" y="147.5" width="15" height="40" stroke="#444" stroke-width="1" fill="none" />
<rect x="44.5" y="151.3" width="11.2" height="13.1" stroke="#444" stroke-width="1" fill="none" />
<rect x="55.7" y="150.5" width="1.9" height="12" stroke="#444" stroke-width="1" fill="#999" />
<rect x="55.7" y="162.5" width="1.9" height="24.5" stroke="#999" stroke-width="1" fill="none" />
<rect x="46" y="171" width="9" height="2.2" stroke="#444" stroke-width="1" fill="#bbb" />
</g>
<circle cx="49.2" cy="152.5" r="0.9" fill="#111"/>
<line x1="37.2" y1="152.5" x2="42.6" y2="152.5" stroke="#777" stroke-width="0.6" />
<circle cx="49.2" cy="157.5" r="0.9" fill="#888"/>
<line x1="37.2" y1="157.5" x2="42.6" y2="157.5" stroke="#777" stroke-width="0.6" />
<circle cx="49.2" cy="162.5" r="0.9" fill="#111"/>
<line x1="37.2" y1="162.5" x2="42.6" y2="162.5" stroke="#777" stroke-width="0.6" />
<line x1="37.2" y1="173" x2="42.6" y2="173" stroke="#777" stroke-width="0.6" />
<circle cx="51.5" cy="180.3" r="2.1" fill="#fff" stroke="#2a2a2a" stroke-width="1.4"/>
<g font-size="5" fill="#777">
<text transform="translate(34.8,152.5) rotate(-90)" text-anchor="middle">1</text><text transform="translate(34.8,157.5) rotate(-90)" text-anchor="middle">2</text><text transform="translate(34.8,162.5) rotate(-90)" text-anchor="middle">3</text><text transform="translate(34.8,173) rotate(-90)" text-anchor="middle">4</text>
</g>
<text transform="translate(61.2,150) rotate(90)" font-size="5.5" font-weight="bold" fill="#333" text-anchor="middle">L</text>
<text transform="translate(61.2,161.5) rotate(90)" font-size="5.5" font-weight="bold" fill="#333" text-anchor="middle">N</text>
<circle cx="63.75" cy="170.8" r="2.5" fill="#2a2a2a"/>
<path d="M63.75 168.6 v2.2 M62.2 170.9 h3.1 M62.8 172.1 h1.9" stroke="#ddd" stroke-width="0.5"/>
<g stroke="#444" stroke-width="0.7" fill="none">
<rect x="69.2" y="166" width="34.5" height="21" stroke="#444" stroke-width="1" fill="none" />
<rect x="75" y="166" width="23" height="2.7" stroke="#444" stroke-width="1" fill="none" />
<rect x="72.5" y="170" width="29.2" height="16.7" stroke="#444" stroke-width="1" fill="none" />
<line x1="69.2" y1="180" x2="72.5" y2="180" stroke="#444" stroke-width="1" />
<path d="M74.2 173.7 H99.6 V181.7 L97 184.2 H77 L74.2 181.7 Z" stroke-width="0.9"/>
<path d="M76 175.5 H97.8 V180.5 L95.8 182.3 H78 L76 180.5 Z" stroke-width="0.6" stroke="#777"/>
<line x1="57.3" y1="147.7" x2="57.3" y2="187.5" stroke="#444" stroke-width="1" />
</g>
<g stroke="#444" stroke-width="0.8" fill="none">
<line x1="103.75" y1="91.75" x2="103.75" y2="187.5" stroke="#444" stroke-width="1" />
<line x1="120.4" y1="91.75" x2="120.4" y2="140" stroke="#444" stroke-width="1" />
<circle cx="113.3" cy="96.5" r="1.9" stroke-width="1.7" stroke="#2a2a2a" fill="#999"/>
<circle cx="112.7" cy="137" r="1.9" stroke-width="1.7" stroke="#2a2a2a" fill="#999"/>
<circle cx="111.3" cy="184.3" r="1.9" stroke-width="1.7" stroke="#2a2a2a" fill="#999"/>
</g>
<rect x="120.4" y="104.3" width="2.6" height="3.3" fill="#222"/>
<rect x="120.4" y="114.7" width="2.6" height="4" fill="#222"/>
<g stroke="#444" stroke-width="0.8" fill="none">
<rect x="123.3" y="91.75" width="20.4" height="43.6" stroke="#444" stroke-width="1" fill="none" />
<line x1="123.3" y1="118.4" x2="143.7" y2="118.4" stroke="#444" stroke-width="1" />
</g>
<rect x="124" y="135.5" width="20.5" height="3.2" fill="#555"/>
<g stroke="#444" stroke-width="0.8" fill="none">
<path d="M120.4 140 V143.7 H130.7 V153.7 H124.5 V187.5"/>
<rect x="125.3" y="155" width="9.4" height="31.3" stroke="#444" stroke-width="1" fill="none" />
<rect x="126.5" y="160" width="6.5" height="20" stroke="#444" stroke-width="1" fill="none" />
<line x1="126.5" y1="166" x2="133" y2="166" stroke="#444" stroke-width="1" />
<line x1="126.5" y1="173" x2="133" y2="173" stroke="#444" stroke-width="1" />
<circle cx="134" cy="145.4" r="0.9"/><circle cx="134" cy="151.3" r="0.9"/>
<rect x="140.3" y="142.3" width="25.4" height="43.4" stroke="#444" stroke-width="1" fill="none" />
<line x1="140.3" y1="148.7" x2="165.7" y2="148.7" stroke="#444" stroke-width="1" />
<line x1="140.3" y1="179.7" x2="165.7" y2="179.7" stroke="#444" stroke-width="1" />
<line x1="147.3" y1="148.7" x2="147.3" y2="179.7" stroke="#444" stroke-width="1" />
<line x1="159.7" y1="148.7" x2="159.7" y2="179.7" stroke="#444" stroke-width="1" />
<line x1="140.3" y1="158" x2="147.3" y2="158" stroke="#444" stroke-width="1" />
<line x1="140.3" y1="170" x2="147.3" y2="170" stroke="#444" stroke-width="1" />
<line x1="159.7" y1="163" x2="165.7" y2="163" stroke="#444" stroke-width="1" />
<line x1="159.7" y1="170" x2="165.7" y2="170" stroke="#444" stroke-width="1" />
<rect x="161" y="164.5" width="3.5" height="4.5" stroke="#444" stroke-width="1" fill="none" />
<rect x="138.3" y="159" width="2" height="10" stroke="#444" stroke-width="1" fill="none" />
<rect x="168" y="142.3" width="4.3" height="12.7" stroke="#444" stroke-width="1" fill="none" />
<rect x="168" y="160.3" width="4.3" height="26" stroke="#444" stroke-width="1" fill="none" />
<line x1="168" y1="175" x2="172.3" y2="175" stroke="#444" stroke-width="1" />
</g>
<rect x="147.7" y="148.7" width="2" height="31" fill="#888"/>
<rect x="151" y="148.7" width="1.4" height="31" fill="#111"/>
<rect x="153" y="148.7" width="1.4" height="31" fill="#111"/>
<rect x="155.8" y="148.7" width="1" height="31" fill="#444"/>
<rect x="158" y="148.7" width="1.2" height="31" fill="#999"/>
<g stroke="#444" stroke-width="0.8" fill="none">
<path d="M149.3 95.3 H191.3" stroke="#333" stroke-width="2"/>
<rect x="149.3" y="96.5" width="9.2" height="13.7" stroke="#444" stroke-width="1" fill="none" />
<rect x="158.5" y="101.4" width="5.5" height="7.5" stroke="#444" stroke-width="1" fill="none" />
<rect x="164" y="101.4" width="7" height="7.5" stroke="#444" stroke-width="1" fill="none" />
<rect x="158.5" y="96.8" width="12.5" height="4.4" stroke="#888" stroke-width="1" fill="none" />
<rect x="172" y="96.5" width="18.5" height="13.7" stroke="#444" stroke-width="1" fill="none" />
<rect x="175" y="97.5" width="14" height="6.5" stroke="#444" stroke-width="1" fill="none" />
<rect x="176.5" y="104.5" width="13" height="5.2" stroke="#444" stroke-width="1" fill="none" />
<line x1="157.5" y1="112.5" x2="193.5" y2="112.5" stroke="#888" stroke-width="1" />
<path d="M157.5 113.5 Q156.3 120 157.5 127 Q158.8 133 157 137.3 H150 V141"/>
<rect x="182" y="121.8" width="8.2" height="2.4" rx="1.2"/>
<rect x="182" y="145" width="8" height="2.2" rx="1.1"/>
<rect x="169.2" y="115.8" width="1.8" height="1.6"/><rect x="171" y="121.8" width="1.8" height="1.6"/><rect x="169.2" y="130.5" width="1.8" height="1.6"/>
</g>
<circle cx="152.8" cy="114.8" r="1" fill="#222"/>
<circle cx="152.8" cy="119.5" r="1" fill="#222"/>
<circle cx="152.8" cy="124.8" r="1" fill="#222"/>
<circle cx="152.8" cy="129.4" r="1" fill="#222"/>
<rect x="182" y="167.3" width="8.7" height="2" fill="#888" stroke="#444" stroke-width="0.5"/>
<path d="M188 126.7 v1.5 l-1.5 1 l3 1.2 l-3 1.2 l3 1.2 l-1.5 1 v1.5 M186 130.7 h-1.5" stroke="#444" stroke-width="0.6" fill="none"/>
<path d="M188 153.3 v1.5 l-1.5 1 l3 1.2 l-3 1.2 l3 1.2 l-1.5 1 v1.5 M186 157.3 h-1.5" stroke="#444" stroke-width="0.6" fill="none"/>
<circle cx="196.6" cy="99.1" r="1.9" fill="none" stroke="#222" stroke-width="1.3"/>
<g stroke="#333" stroke-width="0.8" fill="none">
<line x1="193.3" y1="113" x2="193.3" y2="187.5" stroke="#444" stroke-width="1" />
<rect x="196" y="108.4" width="5.8" height="8.2" stroke="#444" stroke-width="1" fill="none" />
<rect x="196" y="117.5" width="6" height="7" stroke="#444" stroke-width="1" fill="none" />
<line x1="197" y1="121" x2="201" y2="121" stroke="#444" stroke-width="1" />
<rect x="193.3" y="125.3" width="10" height="11.4" stroke="#444" stroke-width="1" fill="none" />
<circle cx="197.3" cy="130.7" r="2.1" stroke-width="1.2" fill="#aaa"/>
<circle cx="197.3" cy="144" r="5.8" stroke-width="1.2"/>
<path d="M197.3 144 L197.3 139 M197.3 144 L193.2 146.8 M197.3 144 L201.4 146.8"/>
<rect x="193.3" y="152.7" width="10" height="10" stroke="#444" stroke-width="1" fill="none" />
<circle cx="197.3" cy="157.3" r="2.1" stroke-width="1.2" fill="#aaa"/>
<rect x="194.7" y="164.7" width="7.3" height="7.3" stroke="#444" stroke-width="1" fill="none" />
<line x1="195.2" y1="165.2" x2="201.5" y2="171.5" stroke="#444" stroke-width="1" />
<circle cx="196.7" cy="179.3" r="1.9"/>
<line x1="196.7" y1="172" x2="196.7" y2="177.4" stroke="#444" stroke-width="0.6" />
</g>
<line x1="193.3" y1="125.3" x2="203.5" y2="125.3" stroke="#222" stroke-width="1.5" />
<g stroke="#555" stroke-width="0.6" fill="none">
<line x1="205.5" y1="113" x2="209.5" y2="113" stroke="#444" stroke-width="1" />
<line x1="205.5" y1="121.5" x2="211" y2="121.5" stroke="#444" stroke-width="1" />
<line x1="205.5" y1="131.3" x2="209.5" y2="131.3" stroke="#444" stroke-width="1" />
<line x1="205.5" y1="157.5" x2="209.5" y2="157.5" stroke="#444" stroke-width="1" />
<line x1="205" y1="168.5" x2="218" y2="168.5" stroke="#444" stroke-width="1" />
<line x1="205.5" y1="165" x2="209" y2="162.5" stroke="#444" stroke-width="1" />
<line x1="205.5" y1="171.5" x2="209" y2="174" stroke="#444" stroke-width="1" />
</g>
<g font-size="6.8" fill="#444">
<text x="210.8" y="116">9</text>
<text x="211.3" y="124.2" textLength="11" lengthAdjust="spacingAndGlyphs">CN2</text>
<text x="210.8" y="134.3">8</text>
<text x="210.5" y="160.2">7</text>
<text x="210" y="166.5" font-size="6">6</text>
<text x="219" y="171.3" textLength="12" lengthAdjust="spacingAndGlyphs">CN5</text>
<text x="210" y="176.5" font-size="6">5</text>
</g>
<g stroke="#444" stroke-width="0.7" fill="none">
<circle cx="234.5" cy="86.5" r="14.5"/>
<circle cx="249" cy="137" r="14.8"/>
<line x1="220.5" y1="93" x2="203.5" y2="109.5" stroke="#444" stroke-width="1" />
<line x1="235" y1="132" x2="203.5" y2="122.5" stroke="#444" stroke-width="1" />
</g>
<path d="M203.5 109.5 l3 -0.9 l0 1.8 z" fill="#222"/>
<path d="M203.5 109.5 l2.9 -1.2 l-1 2.2 z" fill="#222"/>
<path d="M203.5 122.5 l3 -0.2 l-0.6 2 z" fill="#222"/>
<g stroke="#333" stroke-width="0.8" fill="none">
<rect x="226.5" y="78" width="17" height="18" stroke="#444" stroke-width="1" fill="none" />
<circle cx="234.5" cy="87" r="5"/>
<path d="M234.5 84.5 V89.5 M232 87 H237"/>
<line x1="234" y1="72" x2="234" y2="78" stroke="#444" stroke-width="1" />
<line x1="237" y1="72" x2="237" y2="78" stroke="#444" stroke-width="1" />
<rect x="243.5" y="81" width="4.5" height="6" stroke="#444" stroke-width="1" fill="none" />
<rect x="243.5" y="87" width="4.5" height="7" stroke="#444" stroke-width="1" fill="none" />
<line x1="221.5" y1="85" x2="226.5" y2="85" stroke="#444" stroke-width="1" />
<line x1="221.5" y1="95" x2="226.5" y2="95" stroke="#444" stroke-width="1" />
</g>
<path d="M227 80 l3 0 l-3 3 z" fill="#222"/>
<rect x="227" y="98" width="16" height="2" fill="#333"/>
<rect x="243" y="129" width="13" height="16" stroke="#666" stroke-width="0.9" fill="none" />
<rect x="244.5" y="130.5" width="10" height="13" stroke="#aaa" stroke-width="0.5" fill="none" />
<line x1="243" y1="144.5" x2="256" y2="144.5" stroke="#333" stroke-width="1" />
<rect x="246.3" y="133.8" width="1.4" height="1.4" fill="#333"/>
<rect x="251.3" y="133.8" width="1.4" height="1.4" fill="#333"/>
<line x1="240" y1="134.5" x2="243" y2="134.5" stroke="#555" stroke-width="0.7" />
<line x1="256" y1="134.5" x2="259.5" y2="134.5" stroke="#555" stroke-width="0.7" />
<rect x="246.3" y="139.3" width="1.4" height="1.4" fill="#333"/>
<rect x="251.3" y="139.3" width="1.4" height="1.4" fill="#333"/>
<line x1="240" y1="140" x2="243" y2="140" stroke="#555" stroke-width="0.7" />
<line x1="256" y1="140" x2="259.5" y2="140" stroke="#555" stroke-width="0.7" />
<text x="235.8" y="136.8" font-size="6.4" fill="#333">2</text>
<text x="235.8" y="142.3" font-size="6.4" fill="#333">4</text>
<text x="260" y="136.8" font-size="6.4" fill="#333">1</text>
<text x="260" y="142.3" font-size="6.4" fill="#333">3</text>
<rect x="243.2" y="129.2" width="12.6" height="15.6" stroke="#444" stroke-width="1.2" fill="none" />
<text transform="translate(32.08,328.00) rotate(-90)" x="0" y="0" font-size="6.6" textLength="34.0" lengthAdjust="spacingAndGlyphs" fill="#444">1.60 [0.063]</text>
<g stroke="#444" stroke-width="0.6" fill="none">
<line x1="27" y1="339.4" x2="45" y2="339.4" stroke="#444" stroke-width="1" />
<line x1="27" y1="341" x2="45" y2="341" stroke="#444" stroke-width="1" />
<line x1="30" y1="330" x2="30" y2="337" stroke="#444" stroke-width="1" />
<line x1="30" y1="344" x2="30" y2="352" stroke="#444" stroke-width="1" />
</g>
<path d="M30 339.4 l-0.9 -2.6 l1.8 0 z" fill="#222"/>
<path d="M30 341 l-0.9 2.6 l1.8 0 z" fill="#222"/>
<g stroke="#333" stroke-width="0.8" fill="none">
<path d="M44.4 347.2 V300 H123.3 V298.4 H222.4"/>
<line x1="44.4" y1="347.1" x2="222.4" y2="347.1" stroke="#444" stroke-width="1" />
<line x1="44.4" y1="339.4" x2="205" y2="339.4" stroke="#444" stroke-width="1" />
<line x1="44.4" y1="341" x2="205" y2="341" stroke="#444" stroke-width="1" />
<line x1="44.4" y1="345.3" x2="204" y2="345.3" stroke="#444" stroke-width="0.7" />
<line x1="46" y1="300" x2="46" y2="339.6" stroke="#444" stroke-width="1" />
<line x1="57.3" y1="300" x2="57.3" y2="339.6" stroke="#444" stroke-width="1" />
<rect x="46" y="300" width="77" height="3.3" stroke="#444" stroke-width="1" fill="none" />
<line x1="52.5" y1="303" x2="52.5" y2="339.6" stroke="#444" stroke-width="1" />
<rect x="57.5" y="302" width="2.6" height="10" stroke="#444" stroke-width="1" fill="none" />
<rect x="63.3" y="305" width="9.5" height="14" stroke="#444" stroke-width="1" fill="none" />
<circle cx="63.9" cy="329.1" r="8.7"/>
<circle cx="63.9" cy="329.1" r="6.5" stroke-width="0.5"/>
<path d="M55 337 V323 Q55 318 60 318 H70 Q73 318 73 322 V337"/>
<rect x="48" y="327" width="6" height="12" stroke="#444" stroke-width="1" fill="none" />
<rect x="73.5" y="300" width="27" height="40" stroke="#444" stroke-width="1" fill="none" />
<line x1="73.5" y1="304" x2="100.5" y2="304" stroke="#444" stroke-width="1" />
<line x1="87.2" y1="304" x2="87.2" y2="340" stroke="#444" stroke-width="1" />
<line x1="85" y1="331" x2="85" y2="340" stroke="#444" stroke-width="1" />
<line x1="89.5" y1="331" x2="89.5" y2="340" stroke="#444" stroke-width="1" />
<rect x="75" y="333" width="24" height="5" stroke="#444" stroke-width="1" fill="none" />
<line x1="100.5" y1="300" x2="100.5" y2="339.6" stroke="#444" stroke-width="1" />
<line x1="104.7" y1="300" x2="104.7" y2="339.6" stroke="#444" stroke-width="1" />
<rect x="102" y="308.5" width="3" height="20" stroke="#444" stroke-width="1" fill="none" />
<line x1="107.6" y1="303" x2="107.6" y2="339.6" stroke="#444" stroke-width="1" />
<line x1="114.6" y1="303" x2="114.6" y2="339.6" stroke="#444" stroke-width="1" />
<line x1="116" y1="303" x2="116" y2="339.6" stroke="#444" stroke-width="1" />
<line x1="120.4" y1="303" x2="120.4" y2="311" stroke="#444" stroke-width="1" />
<line x1="123.3" y1="300" x2="123.3" y2="311" stroke="#444" stroke-width="1" />
<rect x="118" y="310.4" width="17.6" height="26.3" stroke="#444" stroke-width="1" fill="none" />
<line x1="126.6" y1="310.4" x2="126.6" y2="336.7" stroke="#444" stroke-width="1" />
<circle cx="129" cy="308.5" r="0.6" fill="#333"/>
<rect x="140.3" y="302.3" width="25" height="32.7" stroke="#444" stroke-width="1" fill="none" />
<line x1="159.5" y1="302.3" x2="159.5" y2="335" stroke="#444" stroke-width="1" />
<circle cx="139" cy="308.5" r="0.6" fill="#333"/><circle cx="139" cy="327.5" r="0.6" fill="#333"/>
<rect x="165.8" y="302.3" width="8.2" height="36.1" stroke="#444" stroke-width="1" fill="none" />
<line x1="168.5" y1="306" x2="168.5" y2="338.4" stroke="#444" stroke-width="1" />
<path d="M168 312 Q170 318 170 323 V336"/>
<rect x="171.5" y="322" width="3" height="15" stroke="#444" stroke-width="1" fill="none" />
<rect x="176.3" y="301" width="15.7" height="3.3" stroke="#444" stroke-width="1" fill="#bbb" />
<rect x="176.3" y="305" width="15.7" height="3" stroke="#444" stroke-width="1" fill="#ddd" />
<line x1="192" y1="301" x2="195" y2="305" stroke="#444" stroke-width="1" />
<rect x="178" y="314" width="25.8" height="24.4" stroke="#444" stroke-width="1" fill="none" />
<line x1="182" y1="314" x2="182" y2="325.6" stroke="#444" stroke-width="1" />
<line x1="186" y1="314" x2="186" y2="325.6" stroke="#444" stroke-width="1" />
<path d="M183 324 A8.5 8.5 0 1 1 183 336.5" stroke-width="1.5"/>
<line x1="145" y1="300" x2="192" y2="300" stroke="#777" stroke-width="0.5" />
<rect x="179.3" y="325.6" width="7" height="12.8" stroke="#444" stroke-width="1" fill="#fff" />
<rect x="197.3" y="327.3" width="2.8" height="11" stroke="#444" stroke-width="1" fill="none" />
<rect x="200.2" y="327.3" width="3" height="11" stroke="#444" stroke-width="1" fill="none" />
</g>
<rect x="74.5" y="304.6" width="10" height="25.7" fill="#111"/>
<rect x="90.2" y="304.6" width="10" height="25.7" fill="#111"/>
<circle cx="202.6" cy="339.6" r="1.1" fill="#222"/>
<circle cx="45" cy="339" r="1" fill="#222"/>
<line x1="46" y1="343.2" x2="204" y2="343.2" stroke="#999" stroke-width="2.4" stroke-dasharray="3 1 2 1.5 4 1 1 1 2.5 0.8"/>
<line x1="46" y1="342.3" x2="204" y2="342.3" stroke="#444" stroke-width="0.7" stroke-dasharray="1.5 2 3 1 1 2.5"/>
<text x="105.8" y="359.0" font-size="7.4" textLength="33.9" lengthAdjust="spacingAndGlyphs" fill="#333" stroke="#444" stroke-width="0.08">Front View</text>
<g stroke="#333" stroke-width="0.8" fill="none">
<path d="M248.2 339.3 V299.6 H297 V298.4 H341.5 Q344.3 298.4 344.3 301 V340"/>
<line x1="248.2" y1="345" x2="343.8" y2="345" stroke="#444" stroke-width="1" />
<line x1="248.2" y1="347.4" x2="343.8" y2="347.4" stroke="#444" stroke-width="1" />
<line x1="248.2" y1="339.3" x2="344.3" y2="339.3" stroke="#444" stroke-width="1" />
<line x1="248.2" y1="303.7" x2="330" y2="303.7" stroke="#444" stroke-width="1" />
<line x1="248.2" y1="310" x2="330" y2="310" stroke="#444" stroke-width="1" />
<line x1="248.2" y1="301.5" x2="297" y2="301.5" stroke="#444" stroke-width="0.5" />
<rect x="297" y="298.4" width="5.5" height="4" stroke="#444" stroke-width="1" fill="#888" />
<path d="M262 299.6 Q268 297.5 276 299.6" stroke-width="0.6"/>
<circle cx="254.8" cy="318.6" r="1.8"/>
<rect x="250" y="325" width="8" height="13" stroke="#444" stroke-width="1" fill="none" />
<rect x="259" y="322" width="6" height="16" stroke="#444" stroke-width="1" fill="none" />
<line x1="267" y1="322" x2="267" y2="338" stroke="#444" stroke-width="1" />
<rect x="268.5" y="314" width="38.5" height="24" stroke="#444" stroke-width="1" fill="none" />
<line x1="281.5" y1="314" x2="281.5" y2="338" stroke="#444" stroke-width="1" />
<line x1="285" y1="314" x2="285" y2="338" stroke="#444" stroke-width="1" />
<line x1="298.5" y1="314" x2="298.5" y2="338" stroke="#444" stroke-width="1" />
<rect x="273" y="323.5" width="10" height="15.5" stroke="#444" stroke-width="1" fill="#fff" />
<rect x="300" y="323.5" width="9" height="15.5" stroke="#444" stroke-width="1" fill="#fff" />
<line x1="273" y1="327" x2="283" y2="327" stroke="#444" stroke-width="1" />
<line x1="300" y1="327" x2="309" y2="327" stroke="#444" stroke-width="1" />
<rect x="318" y="310" width="12" height="3" stroke="#444" stroke-width="1" fill="none" />
<line x1="330" y1="301" x2="330" y2="339.3" stroke="#444" stroke-width="1" />
<rect x="332" y="302" width="5.5" height="7.5" stroke="#444" stroke-width="1" fill="none" />
<line x1="334.7" y1="302" x2="334.7" y2="309.5" stroke="#444" stroke-width="1" />
<rect x="325" y="312" width="13" height="12" stroke="#444" stroke-width="1" fill="none" />
<rect x="319" y="318" width="6" height="10" stroke="#444" stroke-width="1" fill="none" />
<rect x="326" y="325" width="12" height="8" stroke="#444" stroke-width="1" fill="none" />
<rect x="327.5" y="332" width="10.5" height="7" stroke="#444" stroke-width="1" fill="none" />
<circle cx="323" cy="334.3" r="3.8" fill="#ddd"/>
<circle cx="323" cy="334.3" r="2"/>
<rect x="313" y="331" width="7" height="8" stroke="#444" stroke-width="1" fill="none" />
<line x1="310" y1="326" x2="310" y2="339" stroke="#444" stroke-width="1" />
</g>
<rect x="276" y="329" width="5" height="6" fill="#111"/>
<rect x="302.5" y="329" width="5" height="6" fill="#111"/>
<rect x="339.5" y="302" width="3.5" height="37" fill="#888"/>
<rect x="339.5" y="303" width="3.5" height="1.5" fill="#222"/>
<rect x="339.5" y="306" width="3.5" height="1.5" fill="#222"/>
<rect x="339.5" y="309" width="3.5" height="1.5" fill="#222"/>
<rect x="339.5" y="312" width="3.5" height="1.5" fill="#222"/>
<rect x="339.5" y="315" width="3.5" height="1.5" fill="#222"/>
<rect x="339.5" y="318" width="3.5" height="1.5" fill="#222"/>
<rect x="339.5" y="321" width="3.5" height="1.5" fill="#222"/>
<rect x="339.5" y="324" width="3.5" height="1.5" fill="#222"/>
<rect x="339.5" y="327" width="3.5" height="1.5" fill="#222"/>
<rect x="339.5" y="330" width="3.5" height="1.5" fill="#222"/>
<rect x="339.5" y="333" width="3.5" height="1.5" fill="#222"/>
<rect x="339.5" y="336" width="3.5" height="1.5" fill="#222"/>
<line x1="250" y1="342.2" x2="342" y2="342.2" stroke="#999" stroke-width="2.4" stroke-dasharray="3 1 2 1.5 4 1 1 1 2.5 0.8"/>
<line x1="250" y1="341.2" x2="342" y2="341.2" stroke="#444" stroke-width="0.7" stroke-dasharray="1.5 2 3 1 1 2.5"/>
<circle cx="249" cy="338.5" r="1" fill="#222"/>
<circle cx="343" cy="339.5" r="1.2" fill="#222"/>
<text x="279.8" y="359.0" font-size="7.4" textLength="34.7" lengthAdjust="spacingAndGlyphs" fill="#333" stroke="#444" stroke-width="0.08">Right View</text>
<g stroke="#444" stroke-width="0.7" fill="none">
<circle cx="310.8" cy="265.8" r="14.7"/>
<line x1="318.5" y1="279" x2="331.5" y2="300" stroke="#444" stroke-width="1" />
<line x1="336" y1="293.2" x2="336" y2="296.2" stroke="#444" stroke-width="1" />
</g>
<path d="M332 301 l-2.3 -2.2 l2 -0.9 z" fill="#222"/>
<text x="330" y="291" font-size="6.8" fill="#444" textLength="12" lengthAdjust="spacingAndGlyphs">CN6</text>
<rect x="305" y="257.5" width="13.300000000000011" height="16.69999999999999" stroke="#666" stroke-width="0.9" fill="none" />
<rect x="306.5" y="259.0" width="10.300000000000011" height="13.699999999999989" stroke="#aaa" stroke-width="0.5" fill="none" />
<line x1="305" y1="273.7" x2="318.3" y2="273.7" stroke="#333" stroke-width="1" />
<rect x="308.45" y="261.8" width="1.4" height="1.4" fill="#333"/>
<rect x="313.45" y="261.8" width="1.4" height="1.4" fill="#333"/>
<line x1="302" y1="262.5" x2="305" y2="262.5" stroke="#555" stroke-width="0.7" />
<line x1="318.3" y1="262.5" x2="321.8" y2="262.5" stroke="#555" stroke-width="0.7" />
<rect x="308.45" y="267.8" width="1.4" height="1.4" fill="#333"/>
<rect x="313.45" y="267.8" width="1.4" height="1.4" fill="#333"/>
<line x1="302" y1="268.5" x2="305" y2="268.5" stroke="#555" stroke-width="0.7" />
<line x1="318.3" y1="268.5" x2="321.8" y2="268.5" stroke="#555" stroke-width="0.7" />
<text x="297.8" y="264.8" font-size="6.4" fill="#333">4</text>
<text x="297.8" y="270.8" font-size="6.4" fill="#333">2</text>
<text x="322.3" y="264.8" font-size="6.4" fill="#333">3</text>
<text x="322.3" y="270.8" font-size="6.4" fill="#333">1</text>
</svg></body></html>
